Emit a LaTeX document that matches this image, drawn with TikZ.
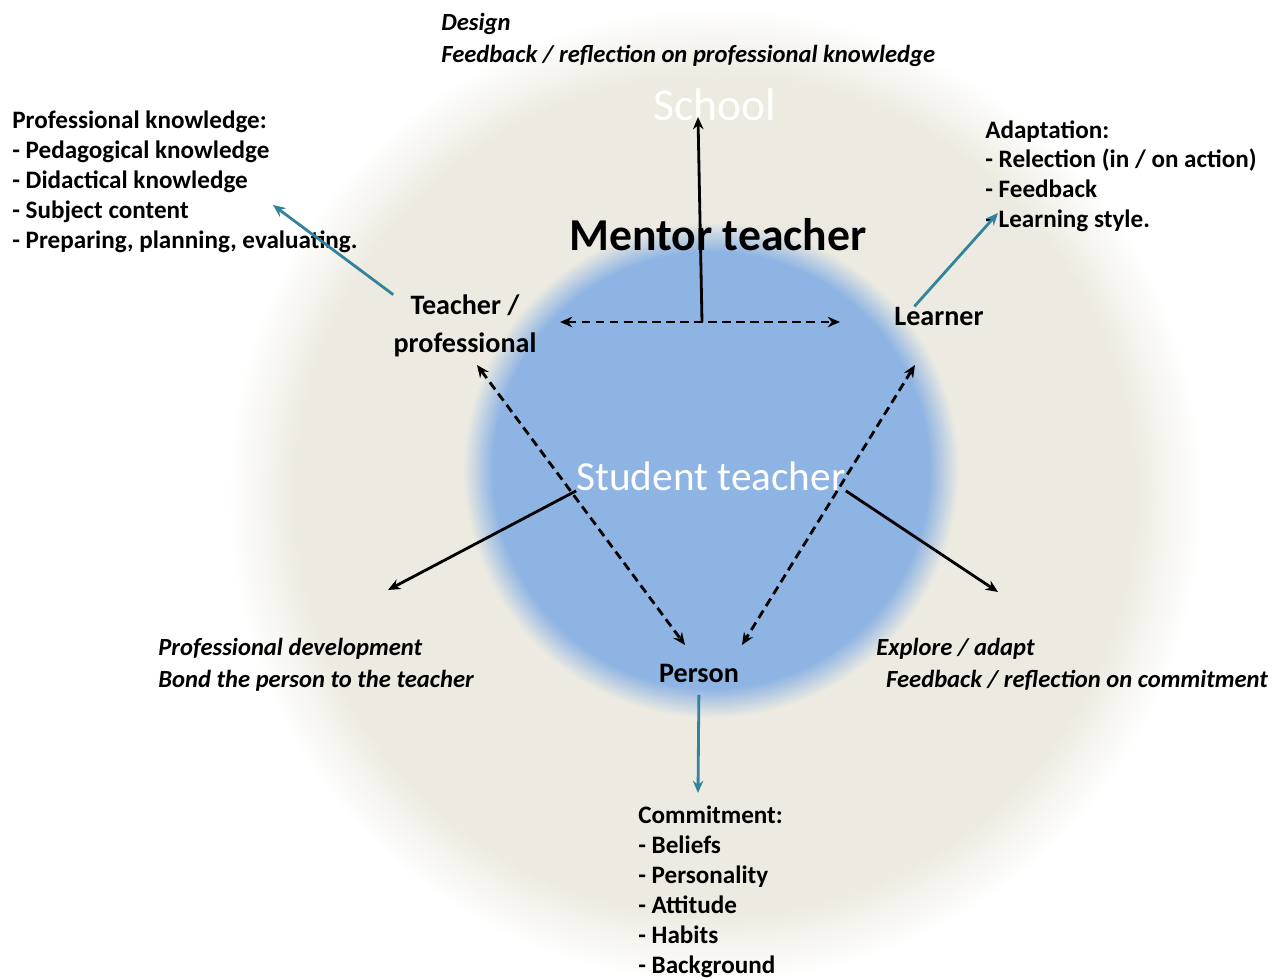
\documentclass[tikz,border=0pt]{standalone}
\usepackage{fontspec}
\setmainfont{Carlito}
\usetikzlibrary{arrows.meta}
\definecolor{schoolbg}{HTML}{EDEBE1}
\definecolor{studentbg}{HTML}{8EB4E3}
\definecolor{tealarrow}{HTML}{31849B}
\pgfdeclareradialshading{schoolfade}{\pgfpoint{0bp}{0bp}}{color(0bp)=(schoolbg); color(21.5bp)=(schoolbg); color(25bp)=(white); color(50bp)=(white)}
\pgfdeclareradialshading{studentfade}{\pgfpoint{0bp}{0bp}}{color(0bp)=(studentbg); color(22bp)=(studentbg); color(25bp)=(schoolbg); color(50bp)=(schoolbg)}

\begin{document}
\begin{tikzpicture}[x=0.02cm, y=-0.02cm, >={Stealth[length=7pt,width=6pt]},
    every node/.style={font=\bfseries\fontsize{14.3}{17}\selectfont, inner sep=0pt},
    list/.style={anchor=north west, align=left},
    slant/.style={font=\bfseries\itshape\fontsize{14}{18}\selectfont},
    role/.style={font=\bfseries\fontsize{16}{21.5}\selectfont},
    link/.style={->, line width=1.6pt},
    dlink/.style={<->, line width=1.6pt, dash pattern=on 5pt off 3pt},
    tlink/.style={->, line width=1.6pt, tealarrow}]
      \useasboundingbox[fill=white] (0,0) rectangle (1282,979);
      \shade[shading=schoolfade] (715,495) circle (9.76cm);
      \shade[shading=studentfade] (711,470) circle (4.96cm);

      \node[text=white, font=\fontsize{26}{30}\selectfont] (school) at (715,105) {School};
      \node[font=\bfseries\fontsize{26}{30}\selectfont] (mentor) at (718,235) {Mentor teacher};
      \node[text=white, font=\fontsize{23.5}{28}\selectfont] (student) at (711,476) {Student teacher};

      \node[role, align=center] (teacher) at (465,326) {Teacher /\\professional};
      \node[role] (learner) at (939,316) {Learner};
      \node[role] (person) at (699,673) {Person};

      \node[list, slant] (design) at (441,13) {Design\\Feedback / reflection on professional knowledge};
      \node[list] (knowledge) at (12,111) {Professional knowledge:\\- Pedagogical knowledge\\- Didactical knowledge\\- Subject content\\- Preparing, planning, evaluating.};
      \node[list] (adapt) at (985,120) {Adaptation:\\- Relection (in / on action)\\- Feedback\\- Learning style.};
      \node[list, slant] (develop) at (158,638) {Professional development\\Bond the person to the teacher};
      \node[list, slant] (explore) at (876,638) {Explore / adapt\\\hspace{0.4em}Feedback / reflection on commitment};
      \node[list] (commit) at (638,806) {Commitment:\\- Beliefs\\- Personality\\- Attitude\\- Habits\\- Background};

      \coordinate (mid) at (702,322);
      \coordinate (up) at (698,117);
      \coordinate (dl) at (560,322);
      \coordinate (dr) at (840,322);
      \coordinate (tp) at (477,365);
      \coordinate (lp) at (915,365);
      \coordinate (pt) at (685,645);
      \coordinate (pl) at (742,645);
      \coordinate (dv) at (388,590);
      \coordinate (ex) at (998,592);
      \coordinate (kn) at (273,205);
      \coordinate (ad) at (998,213);
      \coordinate (cm) at (698,793);

      \draw[link] (mid) -- (up);
      \draw[dlink] (dl) -- (dr);
      \draw[dlink] (tp) -- (pt);
      \draw[dlink] (lp) -- (pl);
      \draw[link] (student.south west) -- (dv);
      \draw[link] (student.south east) -- (ex);
      \draw[tlink] (teacher.north west) -- (kn);
      \draw[tlink] ([xshift=-14pt]learner.north) -- (ad);
      \draw[tlink, shorten <=7pt] (person.south) -- (cm);
    \end{tikzpicture}
\end{document}
